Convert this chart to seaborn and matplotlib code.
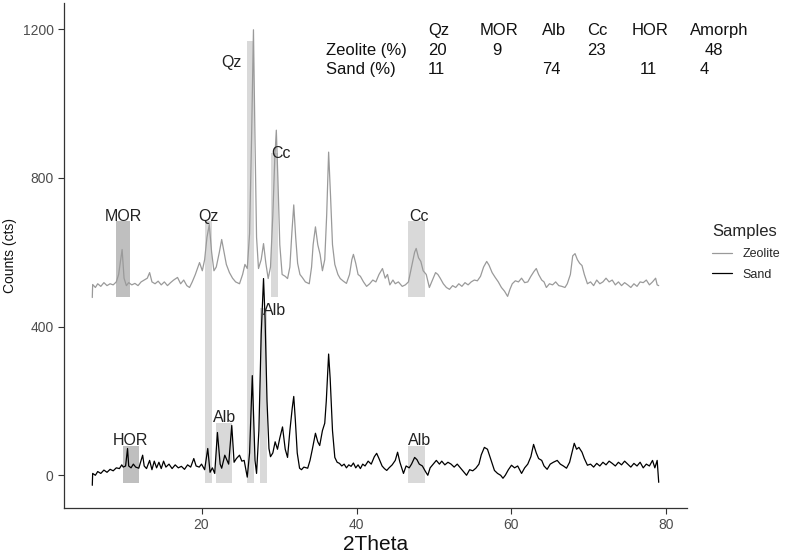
import pandas as pd
import numpy as np
import matplotlib
matplotlib.use('Agg')
import matplotlib.pyplot as plt
from matplotlib.patches import Rectangle
import seaborn as sns

sns.set_style("white")
plt.rcParams['font.family'] = ['Liberation Sans', 'DejaVu Sans']

# ---- XRD traces ----
sand_theta = [5.9, 5.95, 6.3, 6.6, 7.0, 7.4, 7.8, 8.2, 8.6, 9.0, 9.4, 9.7, 9.9, 10.2, 10.45, 10.6, 10.9,
              11.2, 11.5, 11.9, 12.4, 12.6, 12.9, 13.3, 13.6, 13.9, 14.2, 14.5, 14.8, 15.1, 15.4, 15.8,
              16.2, 16.6, 17.0, 17.4, 17.8, 18.2, 18.6, 19.0, 19.3, 19.7, 20.0, 20.4, 20.8, 21.1, 21.4,
              21.7, 22.05, 22.4, 22.6, 23.0, 23.3, 23.5, 23.9, 24.2, 24.5, 24.9, 25.2, 25.5, 25.9, 26.2,
              26.55, 26.9, 27.1, 27.4, 27.7, 28.0, 28.2, 28.45, 28.7, 28.9, 29.2, 29.5, 29.8, 30.1,
              30.45, 30.8, 31.1, 31.4, 31.7, 31.9, 32.1, 32.35, 32.65, 32.9, 33.2, 33.7, 34.0, 34.3,
              34.7, 35.0, 35.25, 35.6, 35.9, 36.1, 36.4, 36.6, 36.9, 37.2, 37.5, 37.8, 38.1, 38.4,
              38.7, 39.0, 39.3, 39.6, 39.9, 40.2, 40.5, 40.8, 41.1, 41.5, 41.9, 42.3, 42.6, 42.9,
              43.3, 43.6, 43.9, 44.2, 44.6, 45.0, 45.3, 45.6, 46.06, 46.4, 46.8, 47.1, 47.5, 47.8,
              48.1, 48.5, 48.9, 49.2, 49.5, 49.9, 50.3, 50.7, 51.0, 51.4, 51.8, 52.2, 52.6, 53.0,
              53.4, 53.8, 54.2, 54.6, 55.0, 55.4, 55.8, 56.1, 56.5, 56.9, 57.3, 57.8, 58.2, 58.6,
              58.9, 59.2, 59.6, 60.0, 60.4, 60.8, 61.3, 61.7, 62.1, 62.5, 62.85, 63.2, 63.5, 63.9,
              64.2, 64.6, 65.0, 65.4, 65.9, 66.3, 66.7, 67.1, 67.5, 67.8, 68.1, 68.4, 68.7, 69.1,
              69.4, 69.8, 70.2, 70.6, 71.0, 71.4, 71.8, 72.2, 72.6, 73.0, 73.4, 73.8, 74.2, 74.6,
              75.0, 75.4, 75.8, 76.2, 76.6, 77.0, 77.4, 77.8, 78.2, 78.5, 78.8, 79.0]
sand_counts = [-27, 5, 0, 10, 5, 14, 8, 16, 12, 20, 18, 28, 22, 25, 72, 25, 20,
               30, 22, 19, 54, 25, 18, 40, 15, 38, 20, 35, 18, 38, 22, 30,
               18, 28, 20, 24, 16, 28, 22, 45, 25, 22, 30, 15, 72, 8, 20,
               5, 115, 30, 19, 54, 40, 30, 134, 35, 45, 54, 38, 40, -5, 60,
               268, 40, 5, 120, 380, 529, 420, 200, 72, 50, 60, 90, 70, 100,
               130, 70, 48, 120, 180, 212, 150, 60, 19, 15, 22, 19, 40, 70,
               113, 90, 80, 120, 140, 200, 326, 260, 120, 48, 35, 32, 25, 30,
               20, 28, 24, 33, 20, 28, 18, 30, 25, 38, 30, 50, 59, 45,
               25, 18, 13, 20, 28, 40, 62, 35, 5, 25, 20, 30, 48, 42,
               30, 25, 10, 0, 20, 30, 40, 30, 38, 28, 35, 30, 22, 30,
               20, 10, 0, 15, 12, 19, 30, 55, 75, 70, 45, 13, 5, 0,
               -8, 0, 15, 27, 20, 25, 5, 20, 30, 50, 83, 60, 45, 40,
               25, 16, 30, 35, 40, 30, 25, 19, 35, 60, 86, 70, 75, 62,
               45, 27, 30, 22, 32, 25, 35, 28, 38, 32, 25, 35, 28, 38,
               30, 22, 32, 25, 35, 20, 30, 25, 40, 20, 40, -19]

zeo_theta = [5.9, 5.95, 6.3, 6.6, 7.0, 7.4, 7.8, 8.2, 8.6, 9.0, 9.3, 9.75, 10.0, 10.3, 10.6, 11.0,
             11.4, 11.8, 12.2, 12.6, 13.0, 13.3, 13.6, 14.0, 14.4, 14.8, 15.2, 15.6, 16.0, 16.4,
             16.9, 17.3, 17.7, 18.1, 18.45, 18.8, 19.2, 19.74, 20.1, 20.4, 20.7, 21.0, 21.3, 21.6,
             21.9, 22.3, 22.6, 22.9, 23.2, 23.6, 24.0, 24.4, 24.9, 25.3, 25.6, 25.9, 26.2, 26.45,
             26.7, 26.9, 27.1, 27.35, 27.7, 28.0, 28.3, 28.6, 28.9, 29.2, 29.45, 29.65, 29.85, 30.1,
             30.4, 30.8, 31.1, 31.4, 31.65, 31.9, 32.15, 32.4, 32.7, 33.0, 33.4, 33.9, 34.2, 34.4,
             34.7, 35.0, 35.3, 35.6, 35.9, 36.15, 36.4, 36.65, 36.9, 37.2, 37.6, 37.9, 38.3, 38.7,
             39.1, 39.4, 39.6, 39.9, 40.2, 40.5, 40.9, 41.3, 41.7, 42.1, 42.5, 42.9, 43.35, 43.7,
             44.0, 44.3, 44.7, 45.0, 45.4, 45.9, 46.3, 46.7, 47.1, 47.5, 47.7, 48.0, 48.3, 48.6,
             49.0, 49.4, 49.8, 50.2, 50.5, 50.8, 51.2, 51.6, 52.0, 52.4, 52.8, 53.2, 53.6, 54.0,
             54.4, 54.8, 55.2, 55.6, 56.0, 56.4, 56.8, 57.1, 57.5, 57.9, 58.3, 58.7, 59.1, 59.5,
             59.8, 60.1, 60.5, 60.9, 61.3, 61.7, 62.1, 62.5, 62.9, 63.2, 63.5, 63.9, 64.2, 64.5,
             64.9, 65.3, 65.7, 66.1, 66.5, 66.9, 67.2, 67.6, 67.9, 68.2, 68.5, 68.8, 69.1, 69.4,
             69.8, 70.2, 70.6, 71.0, 71.4, 71.8, 72.2, 72.6, 73.0, 73.4, 73.8, 74.2, 74.6, 75.0,
             75.4, 75.8, 76.2, 76.6, 77.0, 77.4, 77.8, 78.2, 78.6, 78.8, 79.0]
zeo_counts = [478, 513, 505, 515, 508, 518, 510, 515, 512, 520, 540, 607, 530, 510, 518, 512,
              516, 510, 520, 525, 530, 545, 520, 515, 522, 512, 520, 510, 518, 525,
              532, 515, 525, 510, 505, 520, 540, 572, 550, 580, 640, 674, 600, 550,
              560, 600, 634, 600, 567, 545, 530, 520, 515, 540, 567, 556, 650, 900,
              1198, 900, 640, 556, 580, 623, 570, 529, 560, 700, 850, 928, 800, 620,
              540, 535, 529, 560, 650, 727, 640, 570, 540, 532, 520, 515, 560, 620,
              668, 620, 594, 550, 580, 700, 869, 750, 620, 567, 540, 529, 522, 516,
              540, 580, 594, 570, 540, 535, 520, 508, 515, 525, 520, 540, 556, 530,
              540, 512, 525, 515, 520, 508, 512, 520, 560, 600, 610, 585, 575, 550,
              540, 505, 525, 545, 540, 530, 515, 505, 500, 510, 505, 515, 508, 518,
              512, 520, 525, 523, 535, 560, 575, 565, 545, 532, 520, 505, 495, 481,
              500, 515, 523, 520, 530, 518, 520, 535, 548, 556, 540, 525, 520, 505,
              515, 512, 520, 510, 508, 505, 515, 540, 590, 596, 580, 570, 564, 540,
              515, 520, 510, 525, 515, 520, 530, 520, 525, 512, 520, 510, 518, 512,
              505, 515, 508, 520, 518, 525, 512, 520, 530, 512, 510]

# ---- phase highlight boxes ----
rect_xmin = [9.0, 9.9, 20.4, 25.9, 21.9, 27.5, 29.0, 46.7, 46.7]
rect_xmax = [10.8, 11.9, 21.4, 26.8, 23.9, 28.4, 29.9, 48.9, 48.9]
rect_ymin = [480, -20, -20, -20, -20, -20, 480, 480, -20]
rect_ymax = [685, 80, 685, 1168, 140, 449, 866, 685, 80]
rect_fill = ['#bfbfbf', '#bfbfbf', '#d9d9d9', '#d9d9d9', '#d9d9d9', '#d9d9d9', '#d9d9d9', '#d9d9d9', '#d9d9d9']

# ---- phase labels ----
lab_text = ['MOR', 'HOR', 'Qz', 'Qz', 'Alb', 'Alb', 'Cc', 'Cc', 'Alb']
lab_x = [9.9, 10.8, 20.9, 23.9, 23.0, 29.4, 30.3, 48.1, 48.1]
lab_y = [695, 94, 695, 1110, 155, 444, 864, 695, 94]

# ---- composition table ----
tab_cols = ['Qz', 'MOR', 'Alb', 'Cc', 'HOR', 'Amorph']
tab_cols_x = [49.2, 55.9, 63.9, 69.8, 75.5, 83.0]
tab_rows = ['Zeolite (%)', 'Sand (%)']
tab_rows_y = [1142, 1091]
tab_head_y = 1195
zeo_pct = ['20', '9', '', '23', '', '48']
zeo_pct_x = [49.2, 57.5, 63.9, 69.8, 75.5, 84.9]
sand_pct = ['11', '', '74', '', '11', '4']
sand_pct_x = [49.2, 55.9, 64.0, 69.8, 76.5, 84.3]

df = pd.concat([
    pd.DataFrame({'2Theta': zeo_theta, 'Counts': zeo_counts, 'Samples': 'Zeolite'}),
    pd.DataFrame({'2Theta': sand_theta, 'Counts': sand_counts, 'Samples': 'Sand'}),
])

fig = plt.figure(figsize=(7.87, 5.57), dpi=100)
ax = fig.add_axes([64 / 787, 49 / 557, 623 / 787, 505 / 557])

for x0, x1, y0, y1, c in zip(rect_xmin, rect_xmax, rect_ymin, rect_ymax, rect_fill):
    ax.add_patch(Rectangle((x0, y0), x1 - x0, y1 - y0, facecolor=c, edgecolor='none', zorder=1))

sns.lineplot(data=df, x='2Theta', y='Counts', hue='Samples', hue_order=['Zeolite', 'Sand'],
             palette={'Zeolite': '#9a9a9a', 'Sand': '#000000'}, estimator=None, sort=False,
             linewidth=0.9, ax=ax, zorder=2)

for t, x, y in zip(lab_text, lab_x, lab_y):
    ax.text(x, y, t, ha='center', va='center', fontsize=11.5, color='#222222', zorder=3)

txt = dict(ha='left', va='center', fontsize=12, color='#111111', clip_on=False)
for c, x in zip(tab_cols, tab_cols_x):
    ax.text(x, tab_head_y, c, **txt)
for r, y in zip(tab_rows, tab_rows_y):
    ax.text(36.1, y, r, **txt)
for v, x in zip(zeo_pct, zeo_pct_x):
    ax.text(x, tab_rows_y[0], v, **txt)
for v, x in zip(sand_pct, sand_pct_x):
    ax.text(x, tab_rows_y[1], v, **txt)

ax.set_xlim(2.25, 82.65)
ax.set_ylim(-88, 1270)
ax.set_xticks([20, 40, 60, 80])
ax.set_yticks([0, 400, 800, 1200])
ax.set_xlabel('2Theta', fontsize=15, color='#111111', labelpad=2)
ax.set_ylabel('Counts (cts)', fontsize=10, color='#111111')
ax.tick_params(axis='both', direction='out', length=4, width=0.8, color='#333333',
               labelsize=10, labelcolor='#4d4d4d', bottom=True, left=True)
for s in ['top', 'right']:
    ax.spines[s].set_visible(False)
for s in ['left', 'bottom']:
    ax.spines[s].set_color('#333333')
    ax.spines[s].set_linewidth(0.9)

h, l = ax.get_legend_handles_labels()
ax.legend(h, l, title='Samples', loc='upper left', bbox_to_anchor=(701 / 787, 1 - 213 / 557),
          bbox_transform=fig.transFigure, frameon=False, fontsize=9, title_fontsize=12,
          handlelength=1.6, handletextpad=0.8, labelspacing=0.7, alignment='left')

plt.savefig('out.png', dpi=100)
plt.close()
